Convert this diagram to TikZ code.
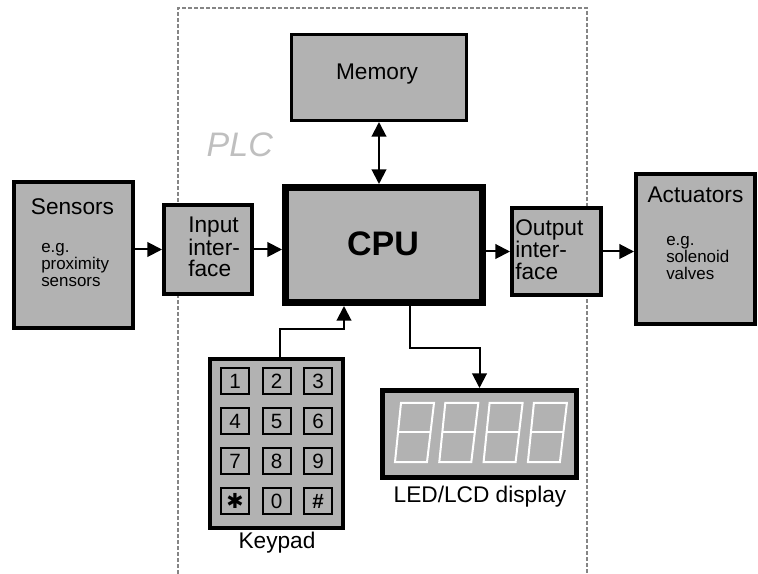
\documentclass[tikz,border=0pt]{standalone}
\usepackage{fontspec}
\setmainfont{Liberation Sans}
\newfontfamily\symbole{DejaVu Sans}
\usetikzlibrary{arrows.meta}
\definecolor{grisbloc}{gray}{0.70}
\definecolor{grispointille}{gray}{0.52}
\definecolor{grisplc}{gray}{0.75}

\begin{document}
\begin{tikzpicture}[x=0.75pt, y=-0.75pt,
    bloc/.style={draw, fill=grisbloc, line width=3pt, inner sep=0pt},
    touche/.style={draw, fill=grisbloc, line width=1.5pt, minimum width=21pt, minimum height=19.5pt, inner sep=0pt, font=\fontsize{15.5}{15.5}\selectfont},
    fleche/.style={line width=1.5pt, -{Triangle[width=11pt,length=11pt]}},
    grand/.style={font=\fontsize{17}{16.5}\selectfont},
    petit/.style={font=\fontsize{12.7}{12.8}\selectfont, align=left, inner sep=0pt},
    segment/.style={draw=white, line width=1.5pt, line join=miter}]
    \useasboundingbox (0,0) rectangle (758,574);

    % Cadre PLC
    \draw[grispointille, line width=1.5pt, dash pattern=on 3pt off 1.5pt] (178,574) -- (178,8) -- (587,8) -- (587,574);
    \node[anchor=base west, text=grisplc, font=\fontsize{25.5}{25.5}\selectfont\itshape] (plc) at (202,157) {PLC};

    % Blocs principaux
    \node[bloc, minimum width=89.25pt, minimum height=109.5pt] (sensors) at (73.5,255) {};
    \node[bloc, minimum width=66pt, minimum height=66.75pt] (input) at (208,249.5) {};
    \node[bloc, line width=5.25pt, minimum width=147.75pt, minimum height=86.25pt] (cpu) at (384,245) {};
    \node[bloc, line width=2.25pt, minimum width=131.25pt, minimum height=64.5pt] (memory) at (379,77.5) {};
    \node[bloc, minimum width=66.75pt, minimum height=65.25pt] (output) at (556.5,251.5) {};
    \node[bloc, minimum width=89.25pt, minimum height=112.5pt] (actuators) at (695.5,249) {};

    % Textes des blocs (base = derniere ligne)
    \node[grand, anchor=base] (tSensors) at (72.5,215) {Sensors};
    \node[petit, anchor=base west] (exSensors) at (41,287) {e.g.\\proximity\\sensors};
    \node[grand, align=left, anchor=base west, inner sep=0pt] (tInput) at (188,277) {Input\\inter-\\face};
    \node[anchor=base, font=\fontsize{25.5}{25.5}\selectfont\bfseries] (tCpu) at (383,256) {CPU};
    \node[grand, anchor=base] (tMemory) at (377,80) {Memory};
    \node[grand, align=left, anchor=base west, inner sep=0pt] (tOutput) at (515,280) {Output\\inter-\\face};
    \node[grand, anchor=base] (tActuators) at (695.5,203) {Actuators};
    \node[petit, anchor=base west] (exActuators) at (666,280) {e.g.\\solenoid\\valves};

    % Clavier
    \node[bloc, minimum width=99.75pt, minimum height=126.75pt] (keypad) at (276.5,443.5) {};
    \foreach \lab/\col/\lig [count=\i] in {1/0/0, 2/1/0, 3/2/0, 4/0/1, 5/1/1, 6/2/1,
        7/0/2, 8/1/2, 9/2/2, {\symbole\bfseries ✱}/0/3, 0/1/3, {\textbf{\#}}/2/3}
        \node[touche] (touche\i) at (235+41.5*\col, 381+40*\lig) {\lab};
    \node[grand, anchor=base] (tKeypad) at (277,548) {Keypad};

    % Afficheur
    \node[bloc, line width=3.75pt, minimum width=145.5pt, minimum height=65.25pt] (display) at (479.5,434) {};
    \foreach \d in {0,1,2,3} {
        \draw[segment] (395+44.3*\d+6,403) -- (395+44.3*\d+39,403) -- (395+44.3*\d+32,462) -- (395+44.3*\d,462) -- cycle;
        \draw[segment] (395+44.3*\d+3,432.5) -- (395+44.3*\d+35.5,432.5);
    }
    \node[grand, anchor=base] (tDisplay) at (480,502) {LED/LCD display};

    % Liaisons
    \coordinate (clavOut) at (280,357);
    \coordinate (clavIn) at (344,306);
    \coordinate (cpuOut) at (410,306);
    \draw[fleche] (sensors.east |- input.west) -- (input.west);
    \draw[fleche] (input.east) -- (input.east -| cpu.west);
    \draw[fleche] (cpu.east |- output.west) -- (output.west);
    \draw[fleche] (output.east) -- (output.east -| actuators.west);
    \draw[line width=1.5pt, {Triangle[width=11pt,length=11pt]}-{Triangle[width=11pt,length=11pt]}] (memory.south) -- (memory.south |- cpu.north);
    \draw[fleche] (clavOut) -- ++(0,-28) -| (clavIn);
    \draw[fleche] (cpuOut) -- ++(0,42) -| (display.north);
\end{tikzpicture}
\end{document}
